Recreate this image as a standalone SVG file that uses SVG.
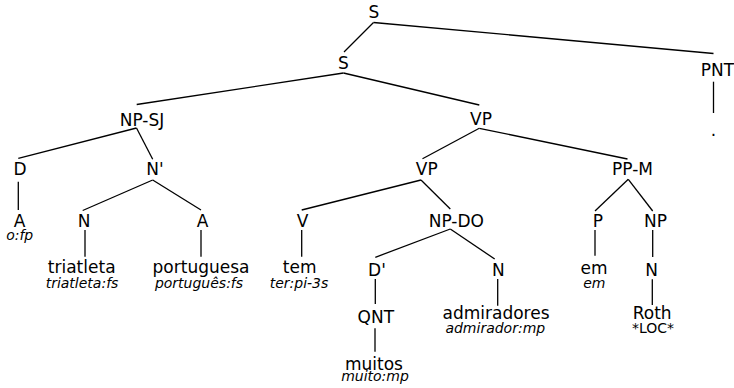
<svg xmlns="http://www.w3.org/2000/svg" width="734" height="388" viewBox="0 0 734 388">
<style>
.l{font-family:"DejaVu Sans",sans-serif;font-size:17px;fill:#000;text-anchor:middle}
.g{font-family:"DejaVu Sans",sans-serif;font-size:14px;font-style:italic;fill:#000;text-anchor:middle}
.r{font-family:"DejaVu Sans",sans-serif;font-size:14px;fill:#000;text-anchor:middle}
#edges line{stroke:#000;stroke-width:1.3;fill:none}
</style>
<rect width="734" height="388" fill="#fff"/>
<g id="edges">
<line x1="373.5" y1="22.5" x2="713.5" y2="53.5"/>
<line x1="373.5" y1="22.5" x2="344" y2="52"/>
<line x1="343.5" y1="73" x2="136.7" y2="104.5"/>
<line x1="343.5" y1="73" x2="479.3" y2="105"/>
<line x1="136.5" y1="128" x2="18.3" y2="158.3"/>
<line x1="136.5" y1="128" x2="152.7" y2="159.3"/>
<line x1="479.3" y1="128.3" x2="422.5" y2="158.8"/>
<line x1="479.3" y1="128.3" x2="627.5" y2="159"/>
<line x1="18.3" y1="181.7" x2="18.3" y2="210"/>
<line x1="152.7" y1="180" x2="82.7" y2="210.5"/>
<line x1="152.7" y1="180" x2="201" y2="210"/>
<line x1="421" y1="180" x2="301.7" y2="210"/>
<line x1="421" y1="180" x2="450.3" y2="209"/>
<line x1="628.3" y1="179.3" x2="595" y2="211"/>
<line x1="628.3" y1="179.3" x2="652.7" y2="211"/>
<line x1="85" y1="230" x2="85" y2="256.7"/>
<line x1="201" y1="230" x2="201" y2="256.7"/>
<line x1="301.7" y1="230" x2="301.7" y2="256.7"/>
<line x1="450.3" y1="229" x2="375.3" y2="257.3"/>
<line x1="450.3" y1="229" x2="494.7" y2="259"/>
<line x1="595" y1="230" x2="595" y2="255.7"/>
<line x1="652.7" y1="230" x2="652.7" y2="257"/>
<line x1="375.3" y1="279" x2="375.3" y2="304"/>
<line x1="497.7" y1="279" x2="497.7" y2="305.7"/>
<line x1="652.3" y1="279.3" x2="652.3" y2="305"/>
<line x1="375" y1="328.3" x2="375" y2="351.7"/>
<line x1="713.5" y1="81.7" x2="713.5" y2="113"/>
</g>
<g id="n-S-top"><text class="l" x="374" y="18">S</text></g>
<g id="n-S"><text class="l" x="343.5" y="68.5">S</text></g>
<g id="n-PNT"><text class="l" x="717.5" y="75.5">PNT</text></g>
<g id="n-dot"><text class="l" x="713.5" y="136">.</text></g>
<g id="n-NP-SJ"><text class="l" x="142" y="125.5">NP-SJ</text></g>
<g id="n-VP1"><text class="l" x="481" y="125">VP</text></g>
<g id="n-D"><text class="l" x="20" y="175">D</text></g>
<g id="n-Nbar"><text class="l" x="155" y="175">N'</text></g>
<g id="n-VP2"><text class="l" x="426.7" y="175">VP</text></g>
<g id="n-PP-M"><text class="l" x="632.5" y="175">PP-M</text></g>
<g id="n-A1"><text class="l" x="19.5" y="226.5">A</text><text class="g" x="19.7" y="240">o:fp</text></g>
<g id="n-N1"><text class="l" x="84" y="227">N</text></g>
<g id="n-A2"><text class="l" x="202.5" y="227">A</text></g>
<g id="n-V"><text class="l" x="302.5" y="227">V</text></g>
<g id="n-NP-DO"><text class="l" x="456.3" y="227">NP-DO</text></g>
<g id="n-P"><text class="l" x="598" y="226.7">P</text></g>
<g id="n-NP"><text class="l" x="655.5" y="226.7">NP</text></g>
<g id="n-triatleta"><text class="l" x="81.7" y="273">triatleta</text><text class="g" x="82" y="287.5">triatleta:fs</text></g>
<g id="n-portuguesa"><text class="l" x="201" y="273">portuguesa</text><text class="g" x="199" y="287.5">português:fs</text></g>
<g id="n-tem"><text class="l" x="299.7" y="273">tem</text><text class="g" x="299" y="287.5">ter:pi-3s</text></g>
<g id="n-Dbar"><text class="l" x="377" y="275.5">D'</text></g>
<g id="n-N2"><text class="l" x="498.3" y="275.5">N</text></g>
<g id="n-em"><text class="l" x="594" y="274">em</text><text class="g" x="594.3" y="288">em</text></g>
<g id="n-N3"><text class="l" x="651.7" y="275.5">N</text></g>
<g id="n-QNT"><text class="l" x="375.8" y="323">QNT</text></g>
<g id="n-admiradores"><text class="l" x="496" y="319">admiradores</text><text class="g" x="495.3" y="333">admirador:mp</text></g>
<g id="n-Roth"><text class="l" x="652.2" y="319">Roth</text><text class="r" x="653" y="333">*LOC*</text></g>
<g id="n-muitos"><text class="l" x="374" y="370">muitos</text><text class="g" x="375" y="380.5">muito:mp</text></g>
</svg>
